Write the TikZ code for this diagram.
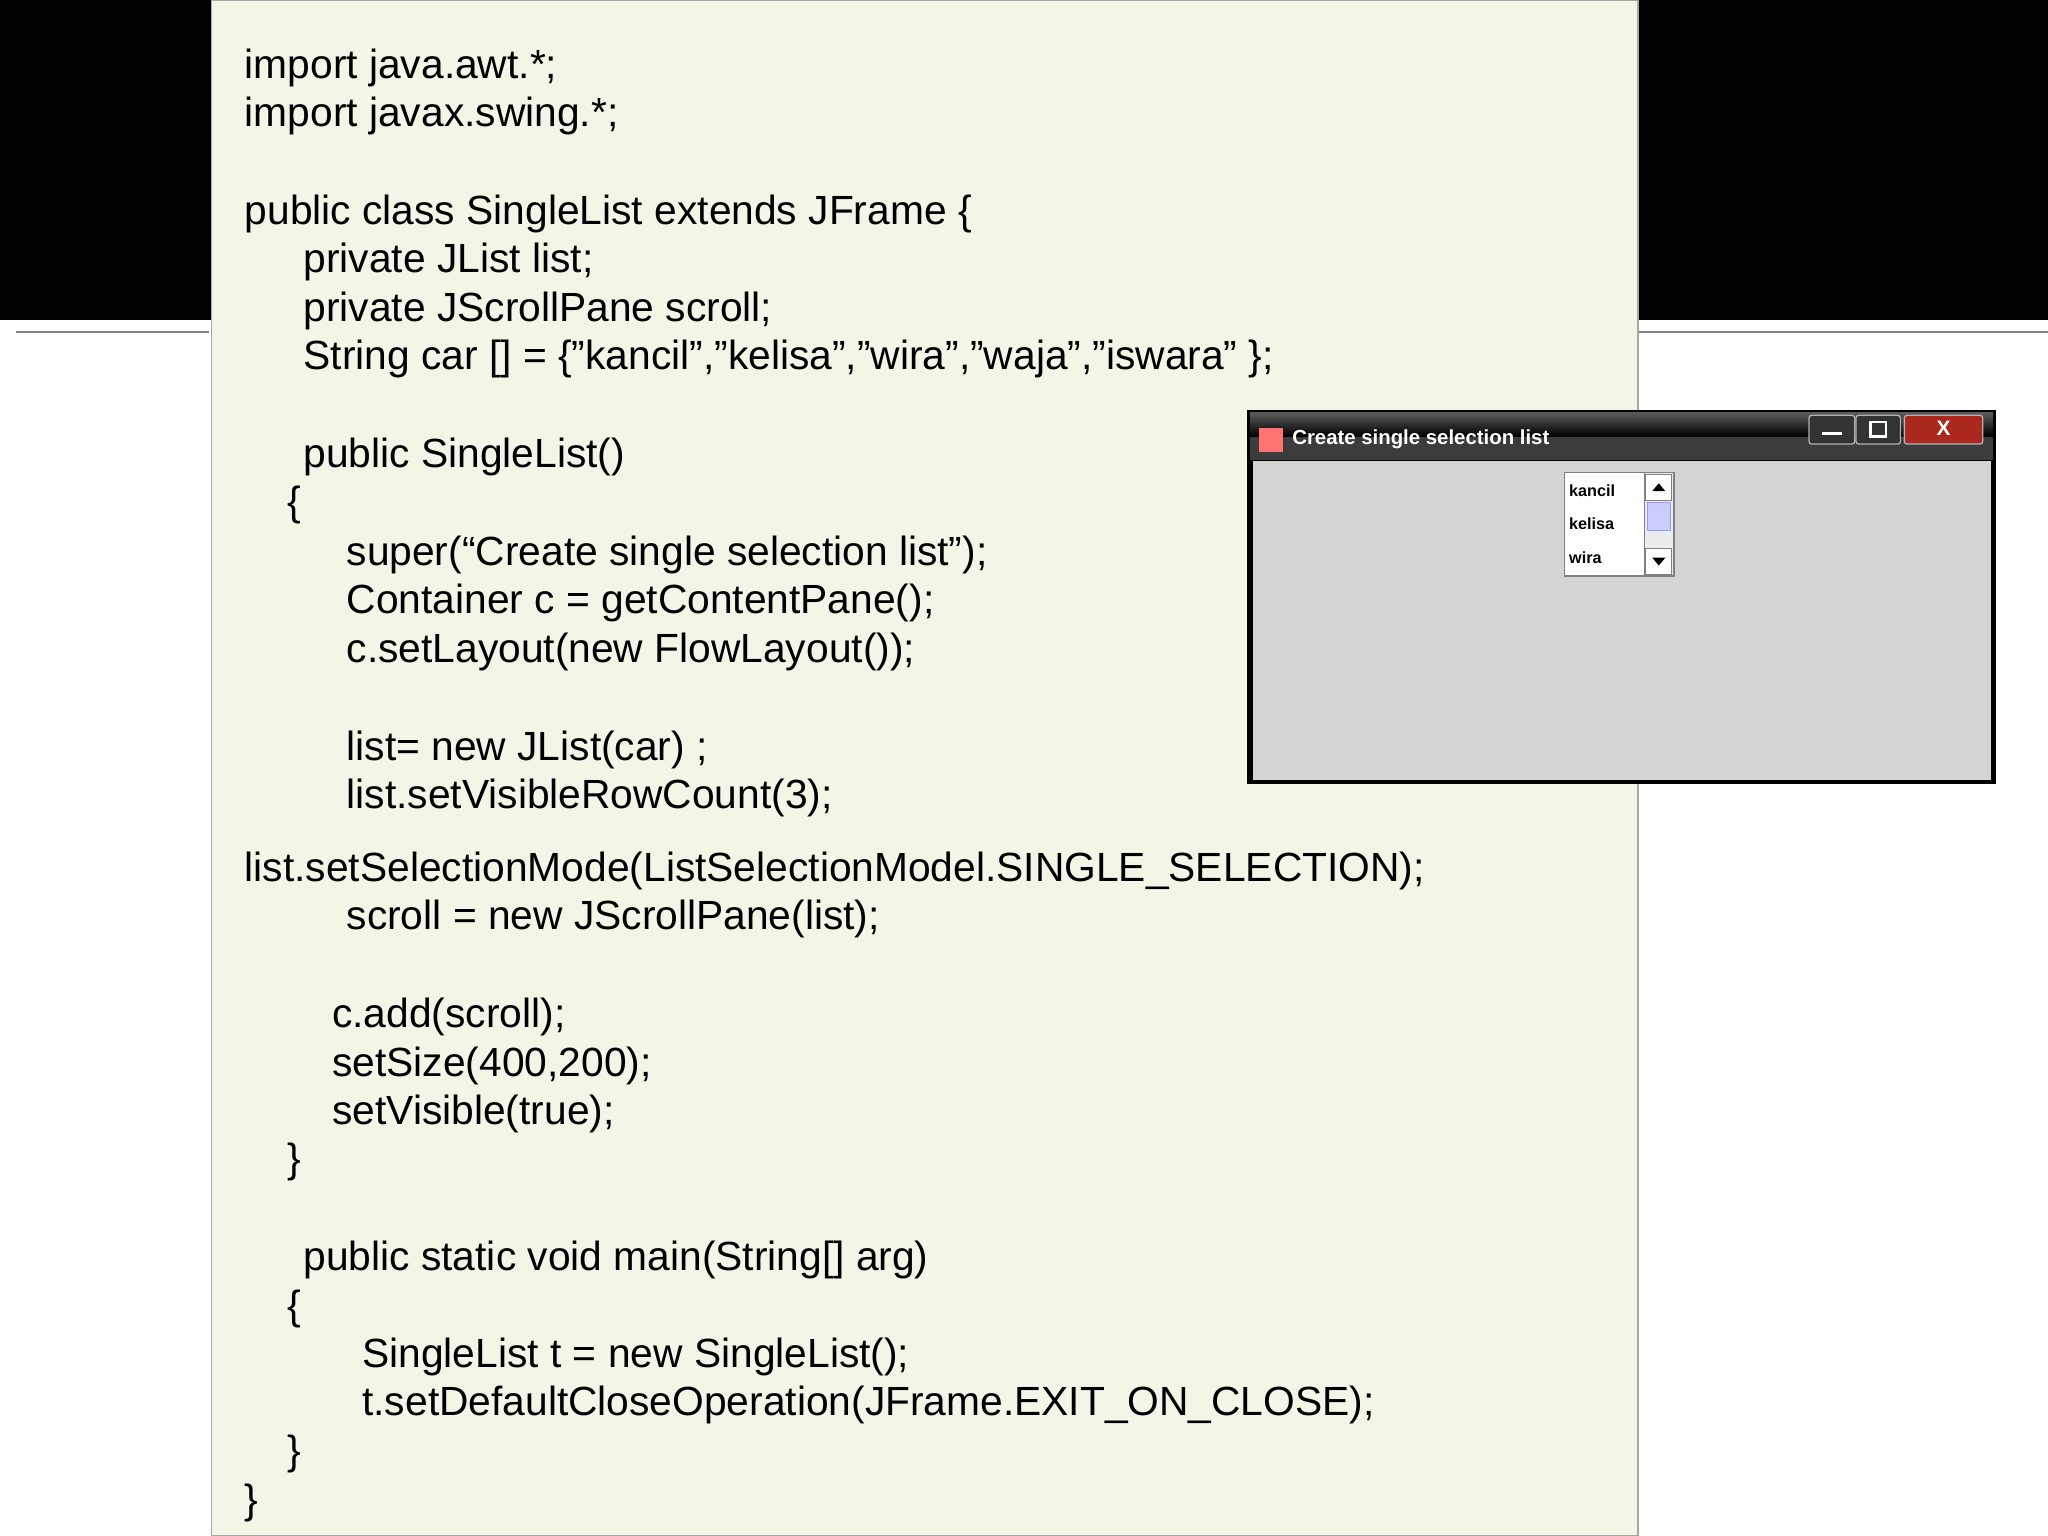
\documentclass[tikz,border=0pt]{standalone}
\usepackage{fontspec}
\setmainfont{Liberation Sans}
\definecolor{panel}{RGB}{243,245,230}
\definecolor{tbar}{RGB}{60,60,60}
\definecolor{client}{RGB}{212,212,212}
\definecolor{closered}{RGB}{170,40,30}
\begin{document}
\begin{tikzpicture}[x=0.5pt,y=-0.5pt,
  code/.style={anchor=base west,inner sep=0pt,font=\fontsize{15.6pt}{18pt}\selectfont},
  item/.style={anchor=west,inner sep=0pt,font=\bfseries\fontsize{6.2pt}{7pt}\selectfont},
  btn/.style={draw=gray!60,rounded corners=1pt,line width=0.5pt}]
\useasboundingbox (0,0) rectangle (1568,1176);
\fill[white] (0,0) rectangle (1568,1176);
\fill[black] (0,0) rectangle (1568,245);
\draw[gray,line width=0.6pt] (12,254) -- (160,254) (1255,254) -- (1568,254);
\filldraw[fill=panel,draw=gray!70,line width=0.6pt] (162,0) rectangle (1254,1176);
\foreach \x/\y/\t [count=\i] in {
187/49/{import java.awt.*;},
187/86/{import javax.swing.*;},
187/161/{public class SingleList extends JFrame \{},
232/198/{private JList list;},
232/235/{private JScrollPane scroll;},
232/272/{String car [] = \{"kancil","kelisa","wira","waja","iswara" \};},
232/347/{public SingleList()},
220/384/{\{},
265/422/{super(“Create single selection list");},
265/459/{Container c = getContentPane();},
265/496/{c.setLayout(new FlowLayout());},
265/571/{list= new JList(car) ;},
265/608/{list.setVisibleRowCount(3);},
187/664/{list.setSelectionMode(ListSelectionModel.SINGLE\_SELECTION);},
265/701/{scroll = new JScrollPane(list);},
254/776/{c.add(scroll);},
254/813/{setSize(400,200);},
254/850/{setVisible(true);},
220/887/{\}},
232/962/{public static void main(String[] arg)},
220/999/{\{},
277/1036/{SingleList t = new SingleList();},
277/1073/{t.setDefaultCloseOperation(JFrame.EXIT\_ON\_CLOSE);},
220/1110/{\}},
187/1148/{\}}}
  \node[code] (c\i) at (\x,\y+11) {\t};
% window
\fill[black] (955,314) rectangle (1528,600);
\fill[tbar] (957,316) rectangle (1526,352);
\shade[top color=gray!70!black,bottom color=black] (957,316) rectangle (1526,334);
\fill[client] (959,353) rectangle (1524,597);
\node[anchor=west,inner sep=0pt,text=white,font=\bfseries\fontsize{7.8pt}{9pt}\selectfont] (title) at (989,336) {Create single selection list};
\fill[pink!60!red] (964,328) rectangle (982,346);
\filldraw[btn,fill=gray!40!black] (1385,318) rectangle (1420,340);
\filldraw[btn,fill=gray!40!black] (1421,318) rectangle (1455,340);
\filldraw[btn,fill=closered] (1458,318) rectangle (1518,340);
\draw[white,line width=1.2pt] (1395,332) -- (1410,332);
\draw[white,line width=1pt] (1432,323) rectangle (1444,334);
\node[text=white,font=\bfseries\fontsize{8pt}{9pt}\selectfont,inner sep=0pt] (xb) at (1488,328) {X};
% list
\filldraw[fill=white,draw=gray] (1198,362) rectangle (1282,441);
\filldraw[fill=gray!15,draw=gray] (1259,362) rectangle (1281,441);
\filldraw[fill=white,draw=gray] (1260,363) rectangle (1280,383);
\filldraw[fill=white,draw=gray] (1260,420) rectangle (1280,440);
\filldraw[fill=blue!20,draw=blue!40] (1261,385) rectangle (1279,406);
\fill[black] (1265,376) -- (1275,376) -- (1270,370) -- cycle;
\fill[black] (1265,427) -- (1275,427) -- (1270,433) -- cycle;
\node[item] (k1) at (1201,376) {kancil};
\node[item] (k2) at (1201,401) {kelisa};
\node[item] (k3) at (1201,427) {wira};
\end{tikzpicture}
\end{document}
